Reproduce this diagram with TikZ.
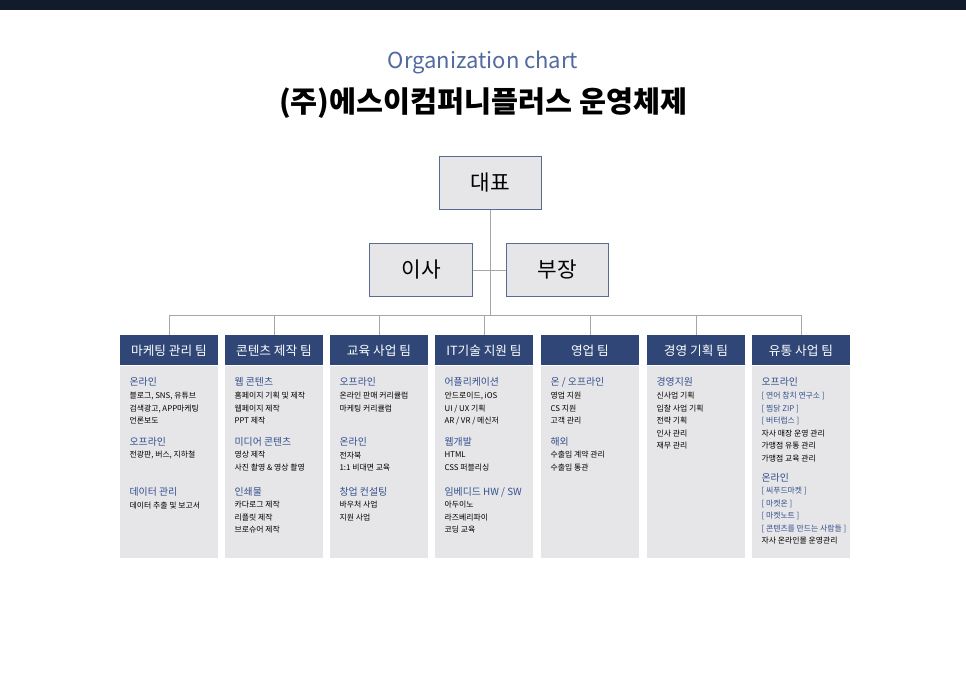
\documentclass[tikz,border=0pt]{standalone}
\usepackage{fontspec}
\setmainfont{Noto Sans CJK KR}
\usetikzlibrary{positioning}
\definecolor{navy}{HTML}{2F4677}
\definecolor{bluetxt}{HTML}{34508F}
\definecolor{boxgray}{HTML}{E6E6E8}
\definecolor{topbar}{HTML}{111B2B}
\newcommand{\hd}[1]{{\color{bluetxt}\fontsize{7.4}{9.4}\selectfont #1}}
\newcommand{\bl}[1]{{\color{bluetxt}#1}}

\begin{document}
\begin{tikzpicture}[x=0.75pt,y=-0.75pt]
          \tikzset{
            chief/.style={draw=navy!80,fill=boxgray,line width=0.8pt,minimum width=77pt,minimum height=40pt,font=\fontsize{16}{18}\selectfont},
            team/.style={fill=navy,text=white,minimum width=73pt,minimum height=22.5pt,anchor=north west,inner sep=0pt,font=\fontsize{9.5}{11}\selectfont},
            body/.style={fill=boxgray,minimum width=73pt,minimum height=144pt,anchor=north west,inner sep=0pt},
            list/.style={anchor=north west,align=left,inner sep=0pt,font=\fontsize{5.9}{9.4}\selectfont},
            link/.style={draw=gray!70,line width=0.6pt}
          }
          % frame
          \fill[white] (0,0) rectangle (966,683);
          \fill[topbar] (0,0) rectangle (966,10);
          \node[text=bluetxt!85,font=\fontsize{16.5}{18}\selectfont] (sub) at (483,62) {Organization chart};
          \node[font=\bfseries\fontsize{22}{24}\selectfont] (title) at (483,103) {(주)에스이컴퍼니플러스 운영체제};

          % heads
          \node[chief] (ceo) at (490.5,183) {대표};
          \node[chief] (dir) at (421,270) {이사};
          \node[chief] (mgr) at (557.5,270) {부장};
          \coordinate (hub) at (490.5,315);

          % teams
          \node[team] (t1) at (120,335) {마케팅 관리 팀};
          \node[team] (t2) at (225,335) {콘텐츠 제작 팀};
          \node[team] (t3) at (330,335) {교육 사업 팀};
          \node[team] (t4) at (435,335) {IT기술 지원 팀};
          \node[team] (t5) at (541,335) {영업 팀};
          \node[team] (t6) at (647,335) {경영 기획 팀};
          \node[team] (t7) at (752,335) {유통 사업 팀};
          \foreach \i in {1,...,7}
            \node[body] (b\i) at (t\i.south west) {};

          % edges
          \draw[link] (ceo.south) -- (hub);
          \draw[link] (dir.east) -- (mgr.west);
          \draw[link] (t1.north |- hub) -- (t7.north |- hub);
          \foreach \i in {1,...,7}
            \draw[link] (t\i.north |- hub) -- (t\i.north);

          % lists
          \node[list] (l1) at ([xshift=7,yshift=-9]b1.north west) {\hd{온라인}\\블로그, SNS, 유튜브\\검색광고, APP마케팅\\언론보도\\[7pt]
            \hd{오프라인}\\전광판, 버스, 지하철\\[19pt]\hd{데이터 관리}\\데이터 추출 및 보고서};
          \node[list] (l2) at ([xshift=7,yshift=-9]b2.north west) {\hd{웹 콘텐츠}\\홈페이지 기획 및 제작\\웹페이지 제작\\PPT 제작\\[7pt]
            \hd{미디어 콘텐츠}\\영상 제작\\사진 촬영 \& 영상 촬영\\[9pt]\hd{인쇄물}\\카다로그 제작\\리플릿 제작\\브로슈어 제작};
          \node[list] (l3) at ([xshift=7,yshift=-9]b3.north west) {\hd{오프라인}\\온라인 판매 커리큘럼\\마케팅 커리큘럼\\[16.5pt]
            \hd{온라인}\\전자북\\1:1 비대면 교육\\[9pt]\hd{창업 컨설팅}\\바우처 사업\\지원 사업};
          \node[list] (l4) at ([xshift=7,yshift=-9]b4.north west) {\hd{어플리케이션}\\안드로이드, iOS\\UI / UX 기획\\AR / VR / 메신저\\[7pt]
            \hd{웹개발}\\HTML\\CSS 퍼블리싱\\[9pt]\hd{임베디드 HW / SW}\\아두이노\\라즈베리파이\\코딩 교육};
          \node[list] (l5) at ([xshift=7,yshift=-9]b5.north west) {\hd{온 / 오프라인}\\영업 지원\\CS 지원\\고객 관리\\[7pt]
            \hd{해외}\\수출입 계약 관리\\수출입 통관};
          \node[list] (l6) at ([xshift=7,yshift=-9]b6.north west) {\hd{경영지원}\\신사업 기획\\입찰 사업 기획\\전략 기획\\인사 관리\\재무 관리};
          \node[list] (l7) at ([xshift=7,yshift=-9]b7.north west) {\hd{오프라인}\\\bl{[ 연어 참치 연구소 ]}\\\bl{[ 찜닭 ZIP ]}\\\bl{[ 버터럽스 ]}\\자사 매장 운영 관리\\가맹점 유통 관리\\가맹점 교육 관리\\[5.5pt]
            \hd{온라인}\\\bl{[ 씨푸드마켓 ]}\\\bl{[ 마켓온 ]}\\\bl{[ 마켓노트 ]}\\\bl{[ 콘텐츠를 만드는 사람들 ]}\\자사 온라인몰 운영관리};
        \end{tikzpicture}
\end{document}
